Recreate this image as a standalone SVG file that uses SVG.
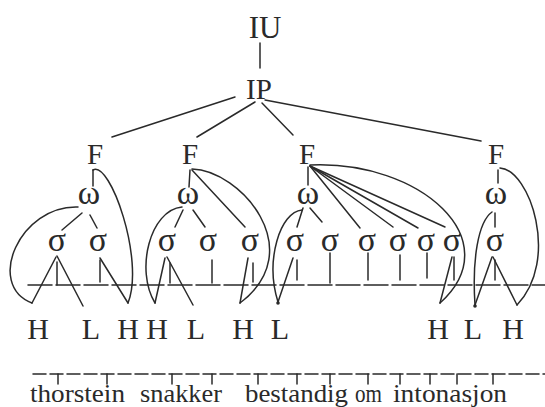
<svg xmlns="http://www.w3.org/2000/svg" width="545" height="407" viewBox="0 0 545 407">
<style>
text{font-family:'Liberation Serif','Times New Roman',serif;fill:#2a2a2a;text-anchor:middle}
.big{font-size:31px}
.f{font-size:29px}
.g{font-size:34px}
.t{font-size:30px}
.w{font-size:25px;text-anchor:start}
.c line,.c path{stroke:#2a2a2a;stroke-width:1.5;fill:none;stroke-linecap:round}
.d1{stroke:#2a2a2a;stroke-width:1.5;stroke-dasharray:24 4;fill:none}
.d2{stroke:#2a2a2a;stroke-width:1.5;stroke-dasharray:13 4;fill:none}
</style>
<rect width="545" height="407" fill="#fff"/>
<g id="IU"><text class="big" x="265" y="38">IU</text></g>
<g id="IP"><text class="f" x="259" y="99">IP</text></g>
<g id="F1"><text class="f" x="95" y="164">F</text></g>
<g id="F2"><text class="f" x="190" y="164">F</text></g>
<g id="F3"><text class="f" x="307" y="164">F</text></g>
<g id="F4"><text class="f" x="496" y="164">F</text></g>
<g id="w1"><text class="g" x="89" y="204">ω</text></g>
<g id="w2"><text class="g" x="188" y="204">ω</text></g>
<g id="w3"><text class="g" x="308" y="204">ω</text></g>
<g id="w4"><text class="g" x="496" y="204">ω</text></g>
<g id="s1"><text class="g" x="57" y="251">σ</text></g>
<g id="s2"><text class="g" x="98" y="251">σ</text></g>
<g id="s3"><text class="g" x="167" y="251">σ</text></g>
<g id="s4"><text class="g" x="208" y="251">σ</text></g>
<g id="s5"><text class="g" x="250" y="251">σ</text></g>
<g id="s6"><text class="g" x="295" y="251">σ</text></g>
<g id="s7"><text class="g" x="330" y="251">σ</text></g>
<g id="s8"><text class="g" x="367" y="251">σ</text></g>
<g id="s9"><text class="g" x="398" y="251">σ</text></g>
<g id="s10"><text class="g" x="426" y="251">σ</text></g>
<g id="s11"><text class="g" x="452" y="251">σ</text></g>
<g id="s12"><text class="g" x="495" y="251">σ</text></g>
<g id="tones">
<text class="t" x="38" y="339">H</text>
<text class="t" x="91" y="339">L</text>
<text class="t" x="128" y="339">H</text>
<text class="t" x="157" y="339">H</text>
<text class="t" x="196" y="339">L</text>
<text class="t" x="243" y="339">H</text>
<text class="t" x="280" y="339">L</text>
<text class="t" x="438" y="339">H</text>
<text class="t" x="473" y="339">L</text>
<text class="t" x="513" y="339">H</text>
</g>
<g id="words">
<text class="w" x="30" y="402" textLength="95" lengthAdjust="spacingAndGlyphs">thorstein</text>
<text class="w" x="140" y="402" textLength="82" lengthAdjust="spacingAndGlyphs">snakker</text>
<text class="w" x="245" y="402" textLength="103" lengthAdjust="spacingAndGlyphs">bestandig</text>
<text class="w" x="355" y="402" textLength="27" lengthAdjust="spacingAndGlyphs">om</text>
<text class="w" x="393" y="402" textLength="114" lengthAdjust="spacingAndGlyphs">intonasjon</text>
</g>
<g id="connectors" class="c">
<line x1="260" y1="43" x2="260" y2="68"/>
<line x1="235" y1="97" x2="112" y2="137"/>
<line x1="255" y1="102" x2="197" y2="137"/>
<line x1="262" y1="103" x2="293" y2="135"/>
<line x1="265" y1="100" x2="481" y2="141"/>
<line x1="93" y1="170" x2="93" y2="186"/>
<path d="M93,170 C110,160 145,260 128,303"/>
<path d="M78,207 C20,205 -15,285 32,303"/>
<line x1="82" y1="213" x2="62" y2="230"/>
<line x1="90" y1="215" x2="97" y2="228"/>
<line x1="56" y1="257" x2="32" y2="303"/>
<line x1="57" y1="262" x2="57" y2="285"/>
<line x1="57" y1="256" x2="83" y2="306"/>
<line x1="100" y1="260" x2="100" y2="282"/>
<line x1="100" y1="258" x2="128" y2="303"/>
<line x1="190" y1="170" x2="189" y2="187"/>
<path d="M192,169 C240,170 310,250 240,303"/>
<line x1="192" y1="170" x2="245" y2="227"/>
<line x1="183" y1="210" x2="175" y2="227"/>
<line x1="193" y1="210" x2="205" y2="227"/>
<path d="M182,207 C150,210 135,270 155,303"/>
<line x1="165" y1="258" x2="155" y2="303"/>
<line x1="170" y1="263" x2="170" y2="283"/>
<line x1="167" y1="257" x2="193" y2="305"/>
<line x1="212" y1="260" x2="212" y2="283"/>
<line x1="248" y1="258" x2="240" y2="303"/>
<line x1="253" y1="263" x2="253" y2="282"/>
<line x1="308" y1="167" x2="308" y2="185"/>
<line x1="310" y1="166" x2="360" y2="228"/>
<line x1="310" y1="166" x2="393" y2="227"/>
<line x1="310" y1="166" x2="418" y2="228"/>
<line x1="310" y1="166" x2="445" y2="227"/>
<path d="M310,165 C420,160 510,240 440,303"/>
<line x1="303" y1="208" x2="297" y2="227"/>
<line x1="310" y1="208" x2="322" y2="222"/>
<path d="M302,210 C280,212 265,260 278,302"/>
<line x1="293" y1="258" x2="278" y2="302"/>
<line x1="297" y1="260" x2="297" y2="280"/>
<line x1="330" y1="253" x2="330" y2="283"/>
<line x1="368" y1="253" x2="368" y2="280"/>
<line x1="400" y1="255" x2="400" y2="280"/>
<line x1="427" y1="253" x2="427" y2="278"/>
<line x1="452" y1="257" x2="440" y2="303"/>
<line x1="454" y1="257" x2="454" y2="280"/>
<line x1="498" y1="170" x2="498" y2="183"/>
<path d="M500,168 C530,170 560,260 517,305"/>
<line x1="495" y1="213" x2="495" y2="227"/>
<path d="M492,212 C478,222 472,260 475,305"/>
<line x1="492" y1="257" x2="475" y2="305"/>
<line x1="493" y1="257" x2="517" y2="305"/>
<line x1="495" y1="260" x2="495" y2="280"/>
<circle cx="278" cy="303" r="1.8" fill="#2a2a2a" stroke="none"/>
<circle cx="475" cy="306" r="1.8" fill="#2a2a2a" stroke="none"/>
<line class="d1" x1="28" y1="285" x2="545" y2="285"/>
<line class="d2" x1="33" y1="374" x2="545" y2="374"/>
<line x1="58" y1="374" x2="58" y2="384"/>
<line x1="107" y1="374" x2="107" y2="384"/>
<line x1="172" y1="374" x2="172" y2="384"/>
<line x1="212" y1="374" x2="212" y2="384"/>
<line x1="258" y1="374" x2="258" y2="384"/>
<line x1="297" y1="374" x2="297" y2="384"/>
<line x1="330" y1="374" x2="330" y2="384"/>
<line x1="368" y1="374" x2="368" y2="384"/>
<line x1="400" y1="374" x2="400" y2="384"/>
<line x1="430" y1="374" x2="430" y2="384"/>
<line x1="457" y1="374" x2="457" y2="384"/>
<line x1="493" y1="374" x2="493" y2="384"/>
</g>
</svg>
